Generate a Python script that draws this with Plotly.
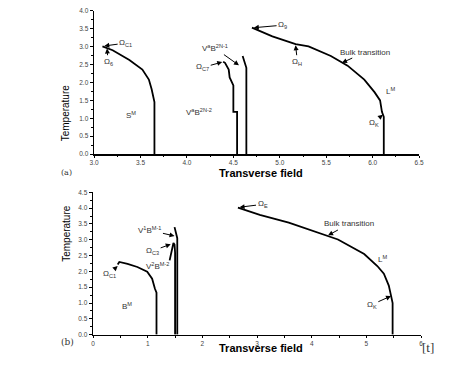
import plotly.graph_objects as go

# ---------------- data ----------------
# panel (a)
a_sm_x = [3.09, 3.20, 3.38, 3.52, 3.59, 3.62, 3.65, 3.65]
a_sm_t = [3.01, 2.90, 2.63, 2.36, 2.08, 1.81, 1.45, 0.00]
a_v2_x = [4.39, 4.41, 4.45, 4.46, 4.50, 4.50, 4.54, 4.54]
a_v2_t = [2.58, 2.55, 2.36, 2.14, 1.92, 1.18, 1.18, 0.00]
a_v1_x = [4.60, 4.62, 4.64, 4.64]
a_v1_t = [2.74, 2.55, 2.41, 0.00]
a_bulk_x = [4.70, 4.92, 5.17, 5.31, 5.55, 5.73, 5.91, 6.02, 6.08, 6.10, 6.12, 6.12]
a_bulk_t = [3.53, 3.29, 3.07, 3.01, 2.74, 2.47, 2.08, 1.73, 1.50, 1.18, 1.04, 0.00]
a_xticks = [3.0, 3.5, 4.0, 4.5, 5.0, 5.5, 6.0, 6.5]
a_yticks = [0.0, 0.5, 1.0, 1.5, 2.0, 2.5, 3.0, 3.5, 4.0]

# panel (b)
b_bm_x = [0.45, 0.48, 0.63, 0.81, 0.99, 1.08, 1.13, 1.16, 1.16]
b_bm_t = [2.22, 2.30, 2.24, 2.14, 1.99, 1.77, 1.46, 1.33, 0.00]
b_v2_x = [1.40, 1.44, 1.47, 1.49, 1.50, 1.50]
b_v2_t = [2.35, 2.70, 2.90, 2.85, 2.60, 0.00]
b_v1_x = [1.49, 1.52, 1.54, 1.54]
b_v1_t = [3.40, 3.20, 3.05, 0.00]
b_bulk_x = [2.65, 3.05, 3.58, 4.12, 4.48, 4.96, 5.20, 5.32, 5.41, 5.45, 5.48, 5.48]
b_bulk_t = [4.02, 3.79, 3.54, 3.23, 3.01, 2.55, 2.17, 1.93, 1.55, 1.24, 1.00, 0.00]
b_xticks = [0, 1, 2, 3, 4, 5, 6]
b_yticks = [0.0, 0.5, 1.0, 1.5, 2.0, 2.5, 3.0, 3.5, 4.0, 4.5]

W, H = 474, 370


def fx(px):
    return px / W


def fy(py):
    return 1 - py / H


fig = go.Figure()
line = dict(color="black", width=1.8)
for xs, ts in [(a_sm_x, a_sm_t), (a_v2_x, a_v2_t), (a_v1_x, a_v1_t), (a_bulk_x, a_bulk_t)]:
    fig.add_trace(go.Scatter(x=xs, y=ts, mode="lines", line=line, xaxis="x", yaxis="y",
                             showlegend=False, hoverinfo="skip"))
for xs, ts in [(b_bm_x, b_bm_t), (b_v2_x, b_v2_t), (b_v1_x, b_v1_t), (b_bulk_x, b_bulk_t)]:
    fig.add_trace(go.Scatter(x=xs, y=ts, mode="lines", line=line, xaxis="x2", yaxis="y2",
                             showlegend=False, hoverinfo="skip"))

tickfont = dict(family="Arial", size=6.5, color="#444")
axcommon = dict(showgrid=False, zeroline=False, showline=True, linecolor="black", linewidth=1.5,
                ticks="outside", tickwidth=1, tickcolor="black", tickfont=tickfont)
minor_y = dict(dtick=0.25, ticks="outside", ticklen=2, tickcolor="black")

fig.update_layout(
    width=W, height=H, margin=dict(l=0, r=0, t=0, b=0),
    paper_bgcolor="white", plot_bgcolor="white", showlegend=False,
    xaxis=dict(domain=[fx(91), fx(423)], range=[3.0, 6.5], tickvals=a_xticks,
               ticktext=[f"{v:.1f}" for v in a_xticks], ticklen=2,
               minor=dict(dtick=0.25, ticks="outside", ticklen=1.5, tickcolor="black"),
               anchor="y", **axcommon),
    yaxis=dict(domain=[fy(153), fy(7)], range=[0, 4.0], tickvals=a_yticks,
               ticktext=[f"{v:.1f}" for v in a_yticks], minor=minor_y, ticklen=3,
               anchor="x", **axcommon),
    xaxis2=dict(domain=[fx(90), fx(425)], range=[0, 6], tickvals=b_xticks,
                ticktext=[str(v) for v in b_xticks], ticklen=2,
                minor=dict(dtick=0.5, ticks="outside", ticklen=1.5, tickcolor="black"),
                anchor="y2", **axcommon),
    yaxis2=dict(domain=[fy(337), fy(192)], range=[0, 4.5], tickvals=b_yticks,
                ticktext=[f"{v:.1f}" for v in b_yticks], minor=minor_y, ticklen=3,
                anchor="x2", **axcommon),
)

lf = dict(family="Arial", size=8, color="#333")


def lab(text, x, y, xr, yr, hx=None, hy=None):
    if hx is None:
        fig.add_annotation(text=text, x=x, y=y, xref=xr, yref=yr, showarrow=False, font=lf)
    else:
        fig.add_annotation(text=text, x=hx, y=hy, ax=x, ay=y, xref=xr, yref=yr,
                           axref=xr, ayref=yr, showarrow=True, arrowhead=2, arrowsize=1,
                           arrowwidth=1, arrowcolor="black", font=lf, standoff=0)


# panel (a) labels
lab("Ω<sub>C1</sub>", 3.34, 3.10, "x", "y", 3.11, 3.02)
lab("Ω<sub>6</sub>", 3.15, 2.58, "x", "y", 3.14, 2.95)
lab("Ω<sub>C7</sub>", 4.17, 2.42, "x", "y", 4.38, 2.57)
lab("V<sup>a</sup>B<sup>2N-1</sup>", 4.30, 2.96, "x", "y", 4.56, 2.48)
lab("V<sup>a</sup>B<sup>2N-2</sup>", 4.13, 1.18, "x", "y")
lab("S<sup>M</sup>", 3.40, 1.10, "x", "y")
lab("Ω<sub>9</sub>", 5.03, 3.60, "x", "y", 4.72, 3.53)
lab("Ω<sub>H</sub>", 5.19, 2.58, "x", "y", 5.17, 3.04)
lab("Bulk transition", 5.92, 2.85, "x", "y", 5.67, 2.55)
lab("L<sup>M</sup>", 6.19, 1.75, "x", "y")
lab("Ω<sub>K</sub>", 6.01, 0.88, "x", "y", 6.11, 1.10)

# panel (b) labels
lab("Ω<sub>C1</sub>", 0.30, 1.93, "x2", "y2", 0.45, 2.17)
lab("V<sup>1</sup>B<sup>M-1</sup>", 1.04, 3.30, "x2", "y2", 1.49, 3.12)
lab("Ω<sub>C3</sub>", 1.09, 2.65, "x2", "y2", 1.42, 2.86)
lab("V<sup>2</sup>B<sup>M-2</sup>", 1.17, 2.18, "x2", "y2")
lab("B<sup>M</sup>", 0.62, 0.90, "x2", "y2")
lab("Ω<sub>E</sub>", 3.10, 4.12, "x2", "y2", 2.68, 4.03)
lab("Bulk transition", 4.68, 3.50, "x2", "y2", 4.30, 3.14)
lab("L<sup>M</sup>", 5.30, 2.40, "x2", "y2")
lab("Ω<sub>K</sub>", 5.10, 0.95, "x2", "y2", 5.45, 1.22)

# axis titles and panel tags (paper coordinates)
tf = dict(family="Arial", size=11, color="black")
for ypx in (172, 358):
    fig.add_annotation(text="<b>Transverse field</b>", x=fx(262), y=fy(ypx), xref="paper", yref="paper",
                       showarrow=False, font=tf, borderpad=0)
for ypx in (80, 265):
    fig.add_annotation(text="Temperature", x=fx(55), y=fy(ypx), xref="paper", yref="paper",
                       showarrow=False, textangle=-90, font=dict(family="Arial", size=10, color="black"))
fig.add_annotation(text="(a)", x=fx(55), y=fy(172), xref="paper", yref="paper", showarrow=False,
                   font=dict(family="DejaVu Serif", size=8, color="#333"))
fig.add_annotation(text="(b)", x=fx(55), y=fy(352), xref="paper", yref="paper", showarrow=False,
                   font=dict(family="DejaVu Serif", size=9, color="#333"))
fig.add_annotation(text="[t]", x=fx(440), y=fy(360), xref="paper", yref="paper", showarrow=False,
                   font=dict(family="Liberation Serif", size=13, color="#333"))

fig.write_html("out.html", config={"displayModeBar": False, "staticPlot": True},
               post_script="document.body.style.margin='0';document.body.style.overflow='hidden';")
